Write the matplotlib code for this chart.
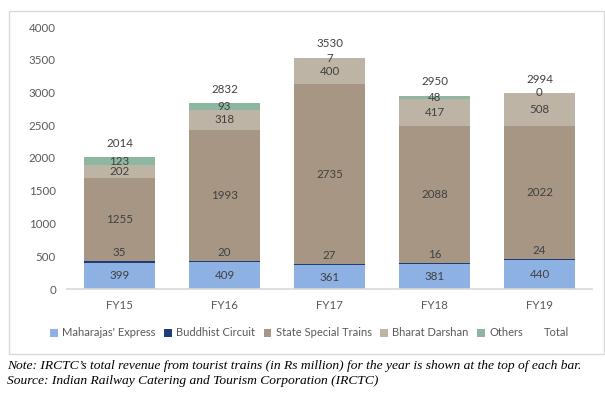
import matplotlib
matplotlib.use("Agg")
import matplotlib.pyplot as plt
from matplotlib.patches import Patch, Rectangle
import numpy as np

years = ["FY15", "FY16", "FY17", "FY18", "FY19"]
maharajas = [399, 409, 361, 381, 440]
buddhist = [35, 20, 27, 16, 24]
state_special = [1255, 1993, 2735, 2088, 2022]
bharat = [202, 318, 400, 417, 508]
others = [123, 93, 7, 48, 0]
totals = [2014, 2832, 3530, 2950, 2994]

series_names = ["Maharajas' Express", "Buddhist Circuit", "State Special Trains",
                "Bharat Darshan", "Others"]
series = [maharajas, buddhist, state_special, bharat, others]
colors = ["#8EB1E4", "#1F3B78", "#A69683", "#BEB4A5", "#8EB7A1"]

plt.rcParams["font.family"] = ["Lato", "DejaVu Sans"]

W, H = 605, 395
fig = plt.figure(figsize=(W / 100, H / 100), dpi=100)

# border box
fig.patches.append(Rectangle((9 / W, 1 - 354 / H), (604 - 9) / W, (354 - 11) / H,
                             transform=fig.transFigure, fill=False,
                             edgecolor="#D9D9D9", linewidth=1.0))

ax = fig.add_axes([67 / W, 1 - 289 / H, (592 - 67) / W, (289 - 27) / H])
x = np.arange(len(years))
bottom = np.zeros(len(years))
width = 0.68
for name, vals, c in zip(series_names, series, colors):
    ax.bar(x, vals, width, bottom=bottom, color=c, label=name, zorder=2)
    for i, v in enumerate(vals):
        if name == "Buddhist Circuit":
            ax.annotate(str(v), (x[i], bottom[i] + v), xytext=(0, 6),
                        textcoords="offset points", ha="center", va="center",
                        fontsize=8.3, color="#404040")
        else:
            ax.text(x[i], bottom[i] + v / 2, str(v), ha="center", va="center",
                    fontsize=8.3, color="#404040")
    bottom = bottom + np.array(vals)

for i, t in enumerate(totals):
    ax.annotate(str(t), (x[i], t), xytext=(0, 10), textcoords="offset points",
                ha="center", va="center", fontsize=8.3, color="#404040")

ax.set_xlim(-0.5, 4.5)
ax.set_ylim(0, 4000)
ax.set_yticks(np.arange(0, 4001, 500))
ax.set_xticks(x)
ax.set_xticklabels(years)
ax.tick_params(axis="both", length=0, labelsize=8.3, colors="#595959")
ax.tick_params(axis="y", pad=8)
ax.tick_params(axis="x", pad=8)
for s in ["top", "right", "left"]:
    ax.spines[s].set_visible(False)
ax.spines["bottom"].set_color("#D9D9D9")
ax.spines["bottom"].set_linewidth(1.2)
ax.patch.set_alpha(0)

handles = [Patch(facecolor=c, edgecolor="none") for c in colors]
handles.append(Patch(facecolor="none", edgecolor="none"))
labels = series_names + ["Total"]
leg = fig.legend(handles, labels, loc="center", bbox_to_anchor=(0.5 + 7 / W, 1 - 333 / H),
                 ncol=6, frameon=False, fontsize=8, handlelength=0.7, handleheight=0.7,
                 handletextpad=0.4, columnspacing=0.75)
for t in leg.get_texts():
    t.set_color("#595959")

note_font = dict(family="Liberation Serif", style="italic", fontsize=9.7, color="#000000")
fig.text(7 / W, 1 - 366 / H,
         "Note: IRCTC\u2019s total revenue from tourist trains (in Rs million) for the year is shown at the top of each bar.",
         ha="left", va="center", **note_font)
fig.text(7 / W, 1 - 381 / H,
         "Source: Indian Railway Catering and Tourism Corporation (IRCTC)",
         ha="left", va="center", **note_font)

fig.savefig("out.png", dpi=100, facecolor="white")
